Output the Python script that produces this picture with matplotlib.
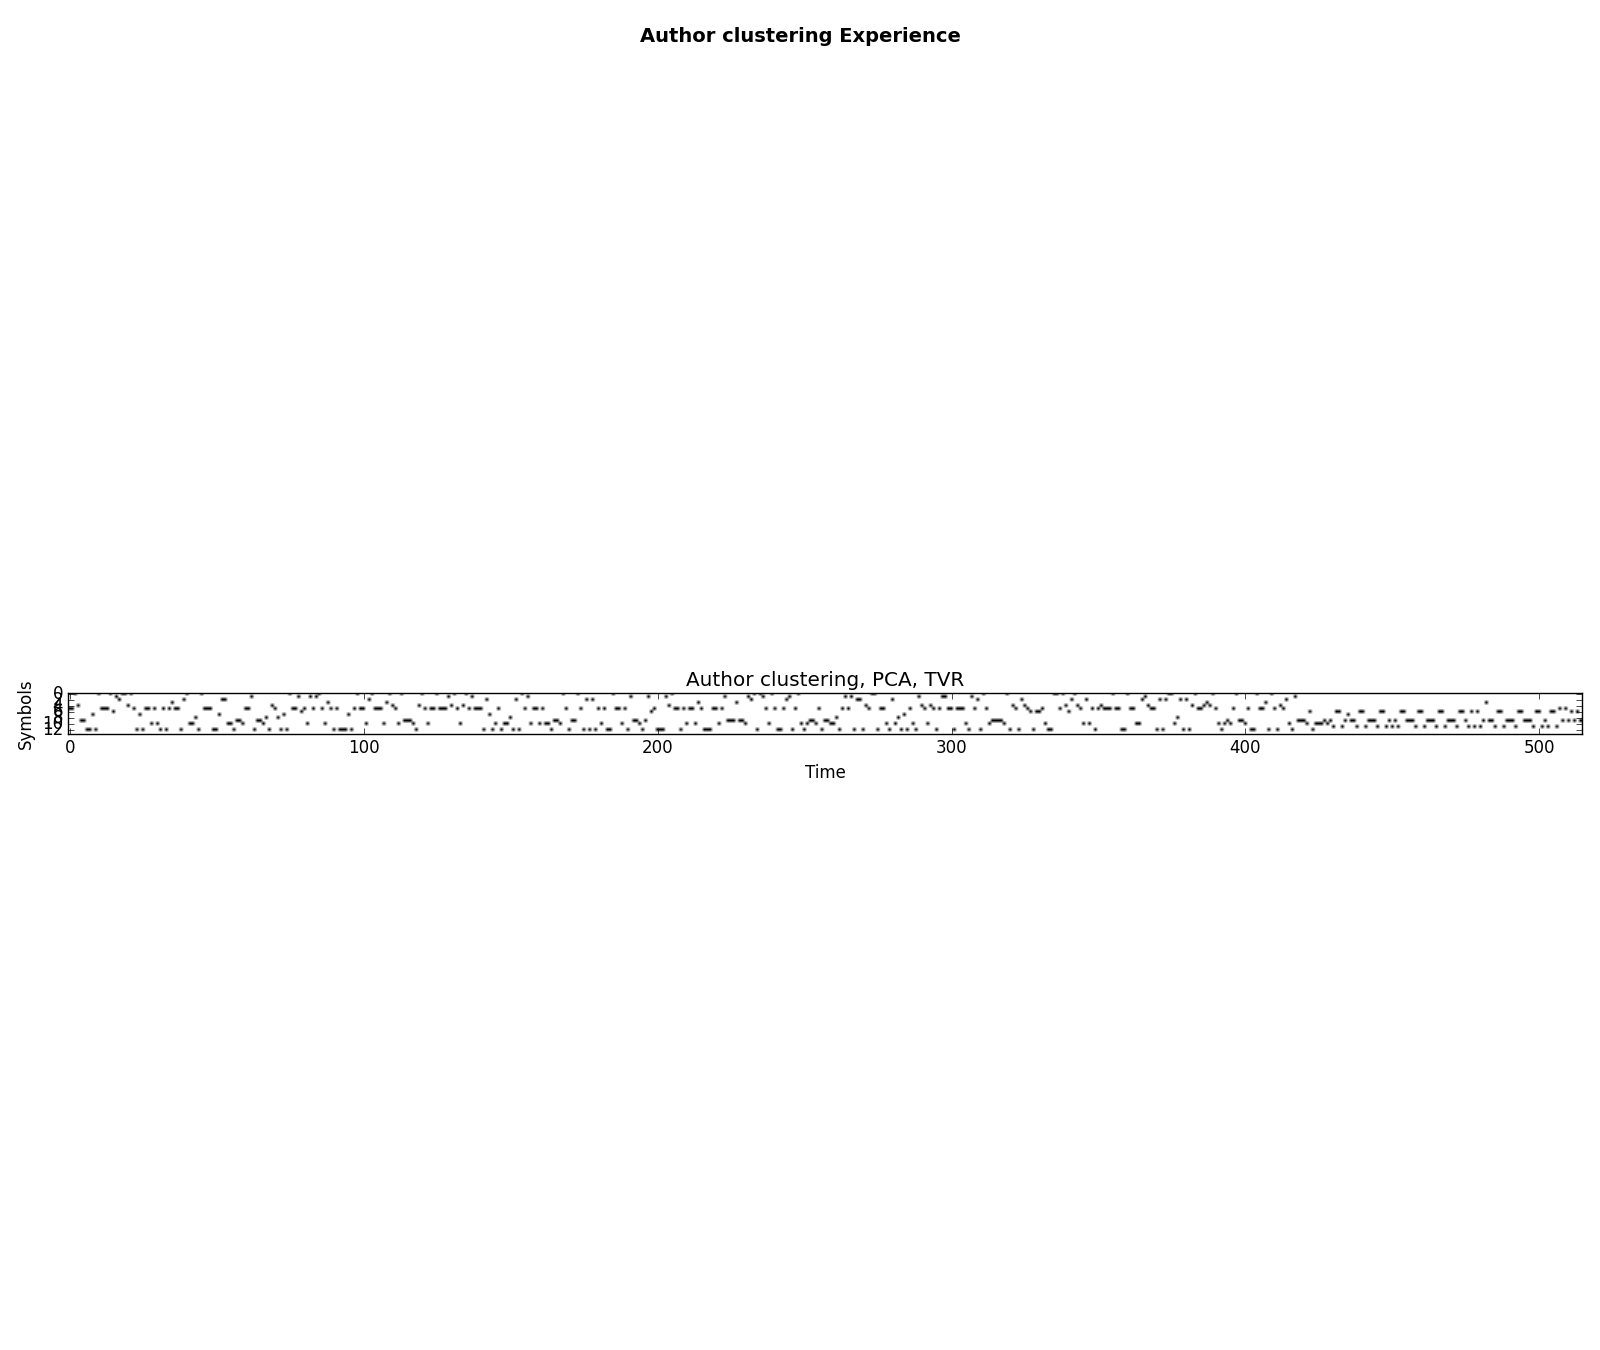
import matplotlib
matplotlib.use("Agg")
import matplotlib.pyplot as plt
import numpy as np

plt.style.use('classic')

# ------------------------
# sequencia de simbolos (um simbolo por instante de tempo)
seq_a = [5,5,0,4,9,9,12,12,7,12,0,5,5,5,0,6,1,2,0,0,4,0,5,12,7,12,5,5,10,5,10,12,5,12,5,3,5,5,
         12,2,0,10,10,8,12,0,5,5,5,12,12,7,2,2,10,10,12,9,9,10,5,5,1,12,9,9,10,8,12,4,5,8,12,7,12,0,5,5,1,6,5,10,1,5,1,0]
seq_b = [5,10,3,5,12,5,12,12,12,7,12,5,0,5,5,10,2,0,5,5,5,10,3,0,4,5,10,0,9,9,9,10,12,4,0,5,10,5,5,0,5,5,
         5,1,4,0,5,10,4,0,5,1,5,5,5,12,2,7,12,10,5,12,10,10,8,12,2,12,0,5,1,10,5,5,10,5,10,10,12,9,9,10,0,5,12,9]
seq_c = [9,0,5,12,2,12,2,12,5,10,5,12,12,0,5,5,10,5,12,1,9,9,10,12,9,1,6,5,12,12,12,1,4,0,5,5,12,5,10,5,5,10,3,
         5,12,12,12,5,5,10,5,1,9,9,9,3,9,9,10,1,2,0,12,0,1,5,10,0,5,12,12,5,2,1,12,5,0,10,12,10,9,9,10,5,12,9]
seq_d = [9,10,10,8,12,5,1,5,1,12,2,2,12,4,5,0,0,12,5,5,10,12,2,10,8,12,7,12,5,10,12,1,4,5,10,4,5,12,5,1,1,5,
         5,12,5,5,5,10,12,1,5,2,12,0,5,10,9,9,9,9,10,0,12,4,5,12,2,4,5,6,12,6,6,5,10,12,12,0,0,5,0,4,6,2]
seq_e = [0,4,5,10,2,10,5,12,5,4,5,5,5,0,5,5,12,12,0,5,5,10,10,2,1,4,5,5,12,2,12,2,0,0,10,8,2,12,2,12,4,0,5,5,
         4,3,4,0,5,10,12,10,9,10,5,0,9,9,10,5,12,12,0,5,5,3,12,0,5,12,4,5,2,10,12,1,9,9,9,10,6,12,10,10,10,9,10]
seq_f = [9,11,6,6,11,9,7,9,9,11,6,6,11,9,9,9,11,6,6,11,9,11,9,11,6,6,9,9,9,11,6,6,11,9,9,9,11,6,6,11,9,9,9,
         11,6,6,9,11,6,11,6,11,9,3,9,9,11,6,6,11,9,9,9,11,6,6,9,9,9,11,6,6,11,9,11,6,6,11,5,9,5,9,6,9,6,9]

symbols = np.array(seq_a + seq_b + seq_c + seq_d + seq_e + seq_f)
nsymb = 14
ntime = len(symbols)

# matriz binaria simbolo x tempo
M = np.zeros((nsymb, ntime))
M[symbols, np.arange(ntime)] = 1

# ------------------------
fig = plt.figure(figsize=(16, 13.5), dpi=100, facecolor='w')
fig.suptitle('Author clustering Experience', fontweight='bold', fontsize=14, y=0.98)
ax = fig.add_axes([0.0428, 0.1, 0.9459, 0.7432])
ax.imshow(M, cmap='gray_r', interpolation='bilinear', aspect='equal')
ax.set_title('Author clustering, PCA, TVR')
ax.set_xlabel('Time')
ax.set_ylabel('Symbols')

fig.savefig('out.png', dpi=100, facecolor='w')
